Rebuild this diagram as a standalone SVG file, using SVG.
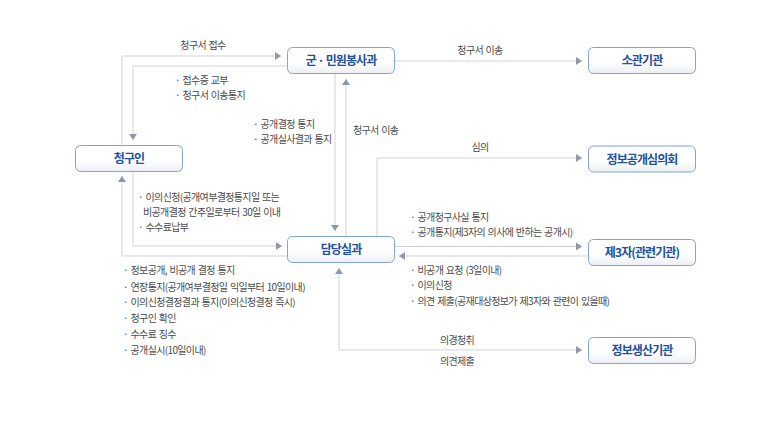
<svg xmlns="http://www.w3.org/2000/svg" width="770" height="424" viewBox="0 0 770 424">
<style>
.box{fill:url(#g);stroke:#7fa3e2;stroke-width:1}
.nt{font-family:"Noto Sans CJK KR","Liberation Sans",sans-serif;font-size:12px;font-weight:bold;fill:#22509f;text-anchor:middle;letter-spacing:-0.9px}
.lb{font-family:"Noto Sans CJK KR","Liberation Sans",sans-serif;font-size:10px;fill:#4a4a4a;letter-spacing:-0.65px;word-spacing:1px}
.c{text-anchor:middle}
.ln{fill:none;stroke:#cfd3db;stroke-width:1}
</style>
<defs>
<linearGradient id="g" x1="0" y1="0" x2="0" y2="1">
<stop offset="0" stop-color="#ffffff"/>
<stop offset="0.55" stop-color="#ffffff"/>
<stop offset="1" stop-color="#eceff3"/>
</linearGradient>
<marker id="a" viewBox="0 0 6 8" refX="6" refY="4" markerWidth="6" markerHeight="8" markerUnits="userSpaceOnUse" orient="auto-start-reverse">
<path d="M0,0 L6,4 L0,8 z" fill="#8d99ab"/>
</marker>
</defs>

<g id="connectors">
<path class="ln" d="M122,145 V56 H281" marker-end="url(#a)"/>
<path class="ln" d="M287,66 H133 V140" marker-end="url(#a)"/>
<path class="ln" d="M394,61 H582" marker-end="url(#a)"/>
<path class="ln" d="M335,73 V231" marker-end="url(#a)"/>
<path class="ln" d="M346,237 V79" marker-end="url(#a)"/>
<path class="ln" d="M377,237 V158 H582" marker-end="url(#a)"/>
<path class="ln" d="M133,171 V246 H282" marker-end="url(#a)"/>
<path class="ln" d="M287,256 H122 V176" marker-end="url(#a)"/>
<path class="ln" d="M394,246.5 H582" marker-end="url(#a)"/>
<path class="ln" d="M588,256 H399" marker-end="url(#a)"/>
<path class="ln" d="M339,268 V350 H582" marker-start="url(#a)" marker-end="url(#a)"/>
</g>

<g id="labels">
<text class="lb c" x="203" y="48.5">청구서 접수</text>
<text class="lb c" x="480" y="53.5">청구서 이송</text>
<text class="lb" x="175" y="83.5">· 접수증 교부</text>
<text class="lb" x="175" y="99">· 청구서 이송통지</text>
<text class="lb" x="253" y="127.5">· 공개결정 통지</text>
<text class="lb" x="253" y="142.5">· 공개실사결과 통지</text>
<text class="lb" x="353" y="133.5">청구서 이송</text>
<text class="lb c" x="480" y="150.5">심의</text>
<text class="lb" x="138" y="201">· 이의신청(공개여부결정통지일 또는</text>
<text class="lb" x="143" y="215.5">비공개결정 간주일로부터 30일 이내</text>
<text class="lb" x="138" y="230.5">· 수수료납부</text>
<text class="lb" x="410" y="221">· 공개청구사실 통지</text>
<text class="lb" x="410" y="235.5">· 공개통지(제3자의 의사에 반하는 공개시)</text>
<text class="lb" x="410" y="274">· 비공개 요청 (3일이내)</text>
<text class="lb" x="410" y="288.5">· 이의신청</text>
<text class="lb" x="410" y="304.5">· 의견 제출(공재대상정보가 제3자와 관련이 있을때)</text>
<text class="lb" x="123" y="273.5">· 정보공개, 비공개 결정 통지</text>
<text class="lb" x="123" y="290.5">· 연장통지(공개여부결정일 익일부터 10일이내)</text>
<text class="lb" x="123" y="306">· 이의신청결정결과 통지(이의신청결정 즉시)</text>
<text class="lb" x="123" y="322">· 청구인 확인</text>
<text class="lb" x="123" y="338">· 수수료 징수</text>
<text class="lb" x="123" y="353.5">· 공개실시(10일이내)</text>
<text class="lb c" x="457" y="343.5">의경청취</text>
<text class="lb c" x="457" y="365">의견제출</text>
</g>

<g id="n-minwon"><rect class="box" x="287.5" y="47.5" width="107" height="26" rx="5"/><text class="nt" x="341" y="65">군 · 민원봉사과</text></g>
<g id="n-sogwan"><rect class="box" x="588.5" y="47.5" width="107" height="26" rx="5"/><text class="nt" x="642" y="65">소관기관</text></g>
<g id="n-simui"><rect class="box" x="588.5" y="146" width="107" height="26" rx="5"/><text class="nt" x="642" y="163.5">정보공개심의회</text></g>
<g id="n-cheonggu"><rect class="box" x="75.5" y="145.5" width="107" height="26" rx="5"/><text class="nt" x="129" y="163">청구인</text></g>
<g id="n-damdang"><rect class="box" x="287.5" y="236.5" width="107" height="26" rx="5"/><text class="nt" x="341" y="254">담당실과</text></g>
<g id="n-third"><rect class="box" x="588.5" y="239.5" width="107" height="26" rx="5"/><text class="nt" x="642" y="257">제3자(관련기관)</text></g>
<g id="n-saengsan"><rect class="box" x="588.5" y="337.5" width="107" height="26" rx="5"/><text class="nt" x="642" y="355">정보생산기관</text></g>
</svg>
